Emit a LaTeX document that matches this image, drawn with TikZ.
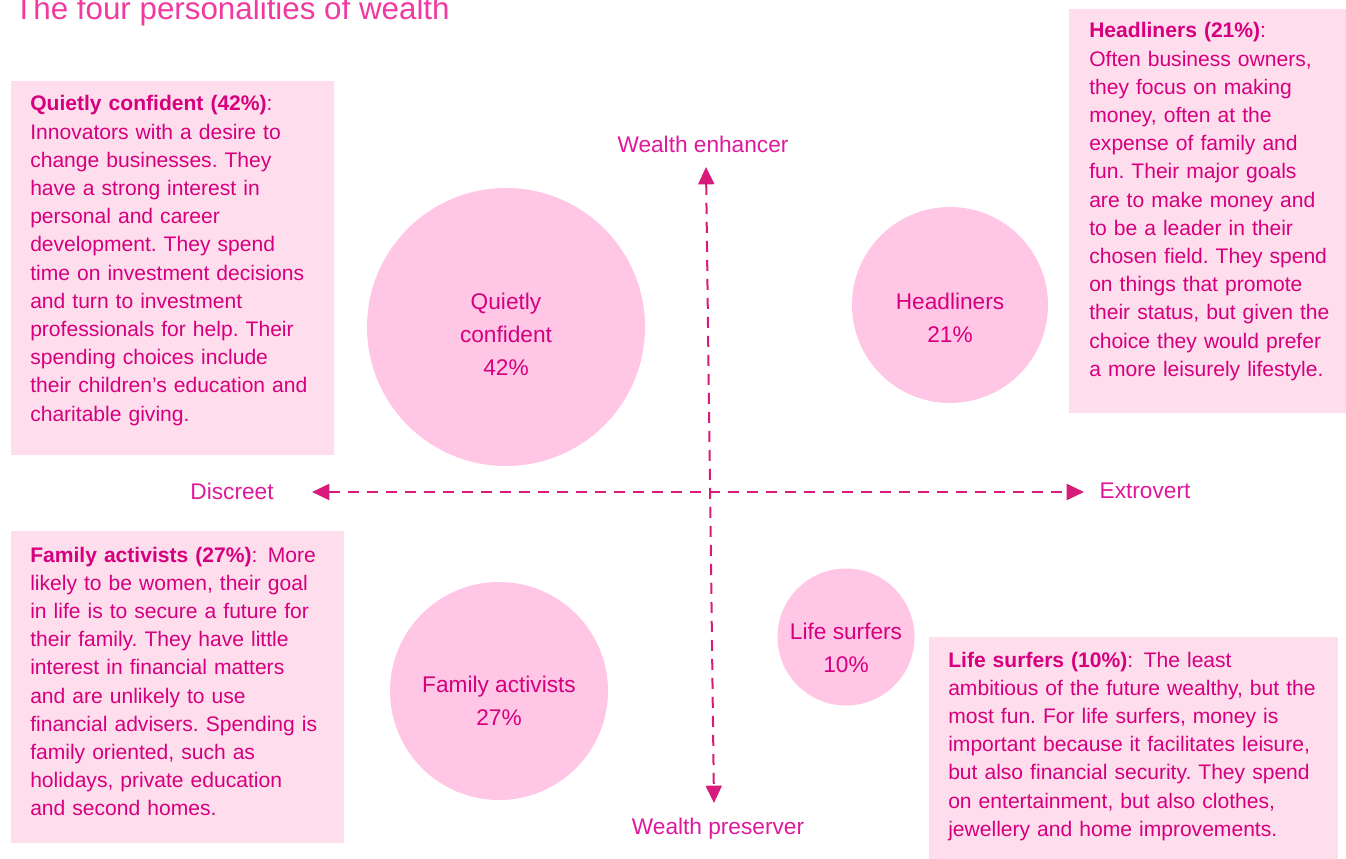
\documentclass[tikz,border=0pt]{standalone}
\usepackage{fontspec}
\setmainfont{Liberation Sans}
\usetikzlibrary{arrows.meta}
\definecolor{boxpink}{HTML}{FEDDED}
\definecolor{circpink}{HTML}{FFC6E6}
\definecolor{txtmag}{HTML}{D6007E}
\definecolor{axmag}{HTML}{E0189B}
\definecolor{titlemag}{HTML}{F03AA0}
\definecolor{arrmag}{HTML}{D81B7A}
\frenchspacing
\begin{document}
\begin{tikzpicture}[x=0.75pt,y=-0.75pt,
  infobox/.style={fill=boxpink, draw=none, inner sep=0pt, anchor=north west},
  infotext/.style={anchor=base west, inner sep=0pt, align=left, text width=320pt, text=txtmag, font=\fontsize{15.8}{21.15}\selectfont},
  bubble/.style={circle, fill=circpink, draw=none, inner sep=0pt},
  bubbletext/.style={align=center, inner sep=0pt, text=txtmag, font=\fontsize{17}{24.75}\selectfont},
  axislabel/.style={inner sep=0pt, text=axmag, font=\fontsize{17}{20}\selectfont},
  axisline/.style={draw=arrmag, line width=1.5pt, dash pattern=on 8.25pt off 6pt,
    {Triangle[length=13pt,width=12pt]}-{Triangle[length=13pt,width=12pt]}}]
\useasboundingbox (0,0) rectangle (1346,859);

% title
\node[anchor=base west, inner sep=0pt, text=titlemag, font=\fontsize{23.5}{28}\selectfont] (title) at (14,20) {The four personalities of wealth};

% boxes
\node[infobox, minimum width=242.25pt, minimum height=280.5pt] (qcbox) at (11,81) {};
\node[infobox, minimum width=207.75pt, minimum height=303pt] (hlbox) at (1069,9) {};
\node[infobox, minimum width=249.75pt, minimum height=234pt] (fabox) at (11,531) {};
\node[infobox, minimum width=306.75pt, minimum height=166.5pt] (lsbox) at (929,637) {};

\node[infotext] (qctext) at (30,111) {\textbf{Quietly confident (42\%)}:\\
Innovators with a desire to\\
change businesses. They\\
have a strong interest in\\
personal and career\\
development. They spend\\
time on investment decisions\\
and turn to investment\\
professionals for help. Their\\
spending choices include\\
their children’s education and\\
charitable giving.};

\node[infotext] (hltext) at (1089,38) {\textbf{Headliners (21\%)}:\\
Often business owners,\\
they focus on making\\
money, often at the\\
expense of family and\\
fun. Their major goals\\
are to make money and\\
to be a leader in their\\
chosen field. They spend\\
on things that promote\\
their status, but given the\\
choice they would prefer\\
a more leisurely lifestyle.};

\node[infotext] (fatext) at (30,562) {\textbf{Family activists (27\%)}:\hspace{0.5em}More\\
likely to be women, their goal\\
in life is to secure a future for\\
their family. They have little\\
interest in financial matters\\
and are unlikely to use\\
financial advisers. Spending is\\
family oriented, such as\\
holidays, private education\\
and second homes.};

\node[infotext] (lstext) at (948,667) {\textbf{Life surfers (10\%)}:\hspace{0.5em}The least\\
ambitious of the future wealthy, but the\\
most fun. For life surfers, money is\\
important because it facilitates leisure,\\
but also financial security. They spend\\
on entertainment, but also clothes,\\
jewellery and home improvements.};

% bubbles
\node[bubble, minimum size=208.5pt] (qc) at (506,327) {};
\node[bubble, minimum size=147pt] (hl) at (950,305) {};
\node[bubble, minimum size=163.5pt] (fa) at (499,691) {};
\node[bubble, minimum size=102.75pt] (ls) at (846,637) {};

\node[bubbletext] (qclabel) at (506,334.5) {Quietly\\confident\\42\%};
\node[bubbletext] (hllabel) at (950,318) {Headliners\\21\%};
\node[bubbletext] (falabel) at (499,701) {Family activists\\27\%};
\node[bubbletext] (lslabel) at (846,647.5) {Life surfers\\10\%};

% axes
\coordinate (axtop) at (706,167);
\coordinate (axbot) at (714,803);
\coordinate (axleft) at (312,492);
\coordinate (axright) at (1084,492);
\draw[axisline] (axleft) -- (axright);
\draw[axisline] (axtop) -- (axbot);

\node[axislabel] (enh) at (703,144) {Wealth enhancer};
\node[axislabel] (pres) at (718,829) {Wealth preserver};
\node[axislabel] (disc) at (232,491) {Discreet};
\node[axislabel] (extr) at (1145,491) {Extrovert};
\end{tikzpicture}
\end{document}
